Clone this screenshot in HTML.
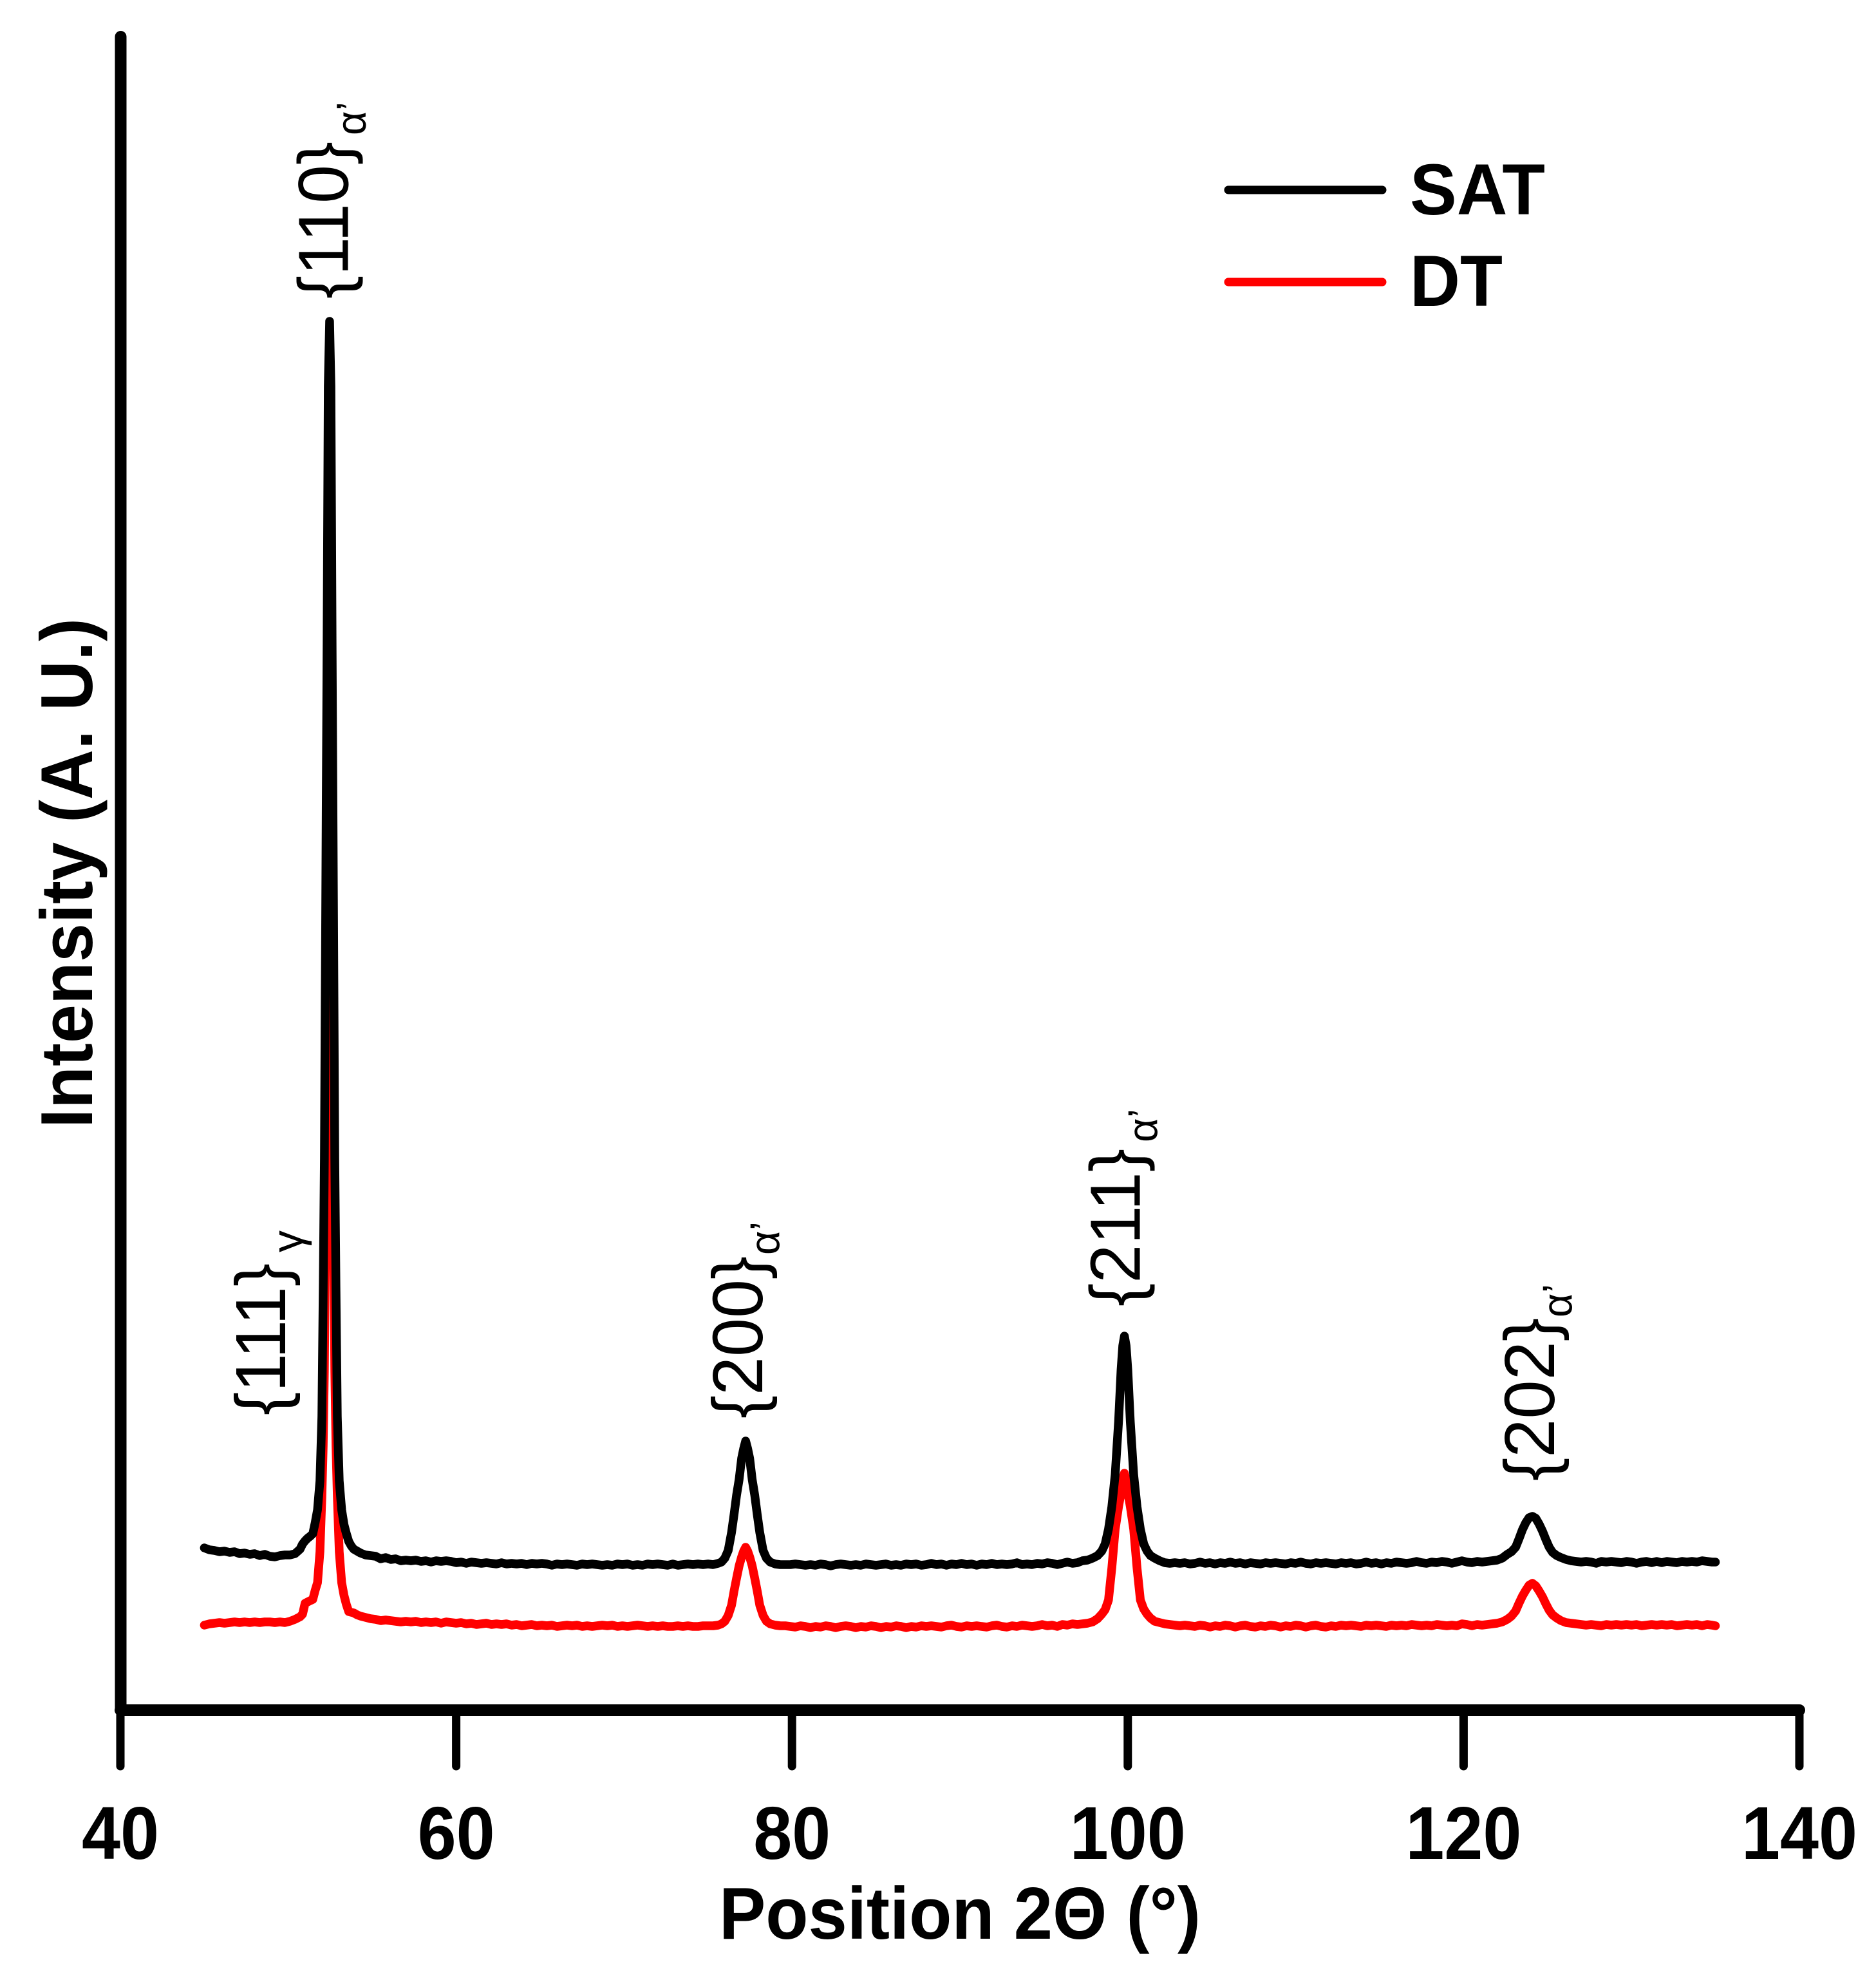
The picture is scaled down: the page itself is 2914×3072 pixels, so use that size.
<!DOCTYPE html>
<html lang="en">
<head>
<meta charset="utf-8">
<title>XRD patterns of SAT and DT samples</title>
<style>
html,body{margin:0;padding:0;background:#fff;}
svg{display:block;}
text{font-family:"Liberation Sans",Arial,sans-serif;fill:#000;}
.bold{font-weight:700;}
</style>
</head>
<body>
<svg id="chart" xmlns="http://www.w3.org/2000/svg" width="2914" height="3072" viewBox="0 0 2914 3072">
  <rect x="0" y="0" width="2914" height="3072" fill="#fff"/>
  <g id="series-layer"></g>
  <g id="axis-layer"></g>

  <text class="bold" font-size="114" transform="translate(143,1752) rotate(-90)" textLength="792" lengthAdjust="spacingAndGlyphs">Intensity (A. U.)</text>
  <text class="bold" font-size="114" x="1117" y="3011" textLength="748" lengthAdjust="spacingAndGlyphs">Position 2Θ (°)</text>

  <g>
    <text font-size="110" transform="translate(443,2198) rotate(-90)" textLength="236" lengthAdjust="spacingAndGlyphs">{111}</text>
    <text font-size="68" transform="translate(470,1945) rotate(-90)">γ</text>
  </g>
  <g>
    <text font-size="110" transform="translate(540.7,464) rotate(-90)" textLength="244" lengthAdjust="spacingAndGlyphs">{110}</text>
    <text font-size="65" transform="translate(568,210) rotate(-90)">α’</text>
  </g>
  <g>
    <text font-size="110" transform="translate(1184,2203) rotate(-90)" textLength="252" lengthAdjust="spacingAndGlyphs">{200}</text>
    <text font-size="65" transform="translate(1210.7,1949) rotate(-90)">α’</text>
  </g>
  <g>
    <text font-size="110" transform="translate(1770.7,2029) rotate(-90)" textLength="245" lengthAdjust="spacingAndGlyphs">{211}</text>
    <text font-size="65" transform="translate(1797.7,1774) rotate(-90)">α’</text>
  </g>
  <g>
    <text font-size="110" transform="translate(2414,2300) rotate(-90)" textLength="253" lengthAdjust="spacingAndGlyphs">{202}</text>
    <text font-size="65" transform="translate(2441.7,2046) rotate(-90)">α’</text>
  </g>

  <g>
    <g>
      <line x1="1908" y1="295" x2="2147" y2="295" stroke="#000" stroke-width="13" stroke-linecap="round"/>
      <text class="bold" font-size="112" x="2190" y="333" textLength="210" lengthAdjust="spacingAndGlyphs">SAT</text>
    </g>
    <g>
      <line x1="1908" y1="438" x2="2147" y2="438" stroke="#f00" stroke-width="13" stroke-linecap="round"/>
      <text class="bold" font-size="112" x="2190" y="475" textLength="144" lengthAdjust="spacingAndGlyphs">DT</text>
    </g>
  </g>
</svg>

<script>
const xTicks = [40, 60, 80, 100, 120, 140];
const xTickLabels = ['40', '60', '80', '100', '120', '140'];

const twoTheta = [
45,45.3,45.6,45.9,46.2,46.5,46.8,47.1,47.4,47.7,48,48.3,48.6,48.9,49.2,49.5,49.8,50.1,50.4,
50.7,50.85,51,51.15,51.3,
51.46,51.6,51.74,51.885,52,52.08,52.15,52.23,52.31,52.38,52.42,52.46,52.5,52.54,52.61,52.69,52.77,52.84,52.92,53.035,53.18,53.32,53.46,
53.6,53.75,53.9,54.1,54.3,54.6,54.9,55.2,55.5,55.8,56.1,56.4,56.7,57,
57.3,57.6,57.9,58.2,58.5,58.8,59.1,59.4,59.7,60,
60.3,60.6,60.9,61.2,61.5,61.8,62.1,62.4,62.7,63,
63.3,63.6,63.9,64.2,64.5,64.8,65.1,65.4,65.7,66,
66.3,66.6,66.9,67.2,67.5,67.8,68.1,68.4,68.7,69,
69.3,69.6,69.9,70.2,70.5,70.8,71.1,71.4,71.7,72,
72.3,72.6,72.9,73.2,73.5,73.8,74.1,74.4,74.7,75,
75.3,75.6,75.8,76,76.2,76.4,76.55,76.7,76.85,77,77.12,77.24,77.36,77.48,77.63,77.78,77.93,78.08,78.28,78.48,78.7,79,79.3,79.6,
79.9,80.2,80.5,80.8,81.1,81.4,81.7,82,82.3,82.6,
82.9,83.2,83.5,83.8,84.1,84.4,84.7,85,85.3,85.6,
85.9,86.2,86.5,86.8,87.1,87.4,87.7,88,88.3,88.6,
88.9,89.2,89.5,89.8,90.1,90.4,90.7,91,91.3,91.6,
91.9,92.2,92.5,92.8,93.1,93.4,93.7,94,94.3,94.6,
94.9,95.2,95.5,95.8,96.1,96.4,96.7,97,
97.3,97.6,97.9,98.2,98.45,98.65,98.85,99.05,99.25,99.45,99.6,99.7,99.8,99.9,100,100.15,100.35,100.55,100.75,100.95,101.15,101.35,101.6,101.9,102.2,102.5,
102.8,103.1,103.4,103.7,104,104.3,104.6,104.9,105.2,105.5,
105.8,106.1,106.4,106.7,107,107.3,107.6,107.9,108.2,108.5,
108.8,109.1,109.4,109.7,110,110.3,110.6,110.9,111.2,111.5,
111.8,112.1,112.4,112.7,113,113.3,113.6,113.9,114.2,114.5,
114.8,115.1,115.4,115.7,116,116.3,116.6,116.9,117.2,117.5,
117.8,118.1,118.4,118.7,119,119.3,119.6,119.9,120.2,120.5,
120.8,121.1,
121.4,121.7,122,122.3,122.6,122.85,123.1,123.3,123.5,123.7,123.9,124.1,124.3,124.5,124.7,124.9,125.1,125.3,125.55,125.8,126.1,126.4,126.7,
127,127.3,127.6,127.9,128.2,128.5,128.8,129.1,129.4,129.7,
130,130.3,130.6,130.9,131.2,131.5,131.8,132.1,132.4,132.7,
133,133.3,133.6,133.9,134.2,134.5,134.8,135
];

const satIntensity = [
252,249,248,246,247,245,246,243,244,242,243,240,242,239,238,240,241,241,243,
250,258,263,267,270,
274,291,311,356,456,656,856,1256,1656,2056,2106,2157,2106,2056,1656,1256,856,656,456,356,311,288,274,
262,255,250,247,244,241,240,239,235,237,234,235,232,233,
232,233,231,232,230,232,231,232,231,229,
230,228,230,229,228,229,228,227,229,227,
228,227,228,226,228,227,228,227,225,227,
226,227,226,225,227,226,227,226,225,226,
225,227,226,227,225,226,225,227,226,227,
226,225,227,225,226,227,226,227,226,227,
226,228,230,236,248,276,304,334,358,391,406,418,406,391,358,334,304,276,248,236,230,227,226,226,
226,227,226,225,226,225,227,226,224,226,
227,226,225,226,225,227,226,225,226,227,
225,226,225,227,226,227,225,226,228,226,
227,225,227,226,228,226,227,225,227,226,
228,226,227,226,227,229,226,227,226,228,
227,229,228,226,228,230,228,229,
232,233,236,240,247,258,281,316,366,448,529,566,581,566,529,448,366,316,281,258,247,240,236,232,229,228,
229,228,229,227,228,230,228,229,227,229,
228,230,228,229,227,229,228,227,229,228,
229,228,227,229,228,230,228,227,229,228,
229,228,227,229,228,229,227,228,230,228,
229,227,229,228,230,229,228,229,231,229,
228,230,229,231,230,228,230,232,230,229,
231,230,
231,232,233,236,242,246,253,266,280,291,299,301,298,289,278,265,253,245,240,237,234,232,231,
230,231,230,228,231,230,231,230,229,231,
230,228,230,231,229,231,229,231,230,229,
231,230,231,230,232,231,230,230
];

const dtIntensity = [
132,134,135,136,135,136,137,136,137,136,137,136,137,137,136,137,136,138,141,
145,149,166,168,170,
172,186,198,246,331,411,526,776,1116,1316,1381,1450,1381,1316,1116,776,526,411,331,246,198,178,164,
153,152,151,148,146,144,142,141,139,140,139,138,137,138,
137,138,136,137,136,137,135,137,136,135,
136,134,135,133,134,135,133,134,133,134,
132,133,131,132,133,131,132,131,132,130,
131,132,131,132,130,131,130,131,132,131,
132,130,131,130,131,132,131,130,131,130,
131,130,130,131,130,131,130,130,131,131,
131,132,134,138,147,163,185,205,224,238,247,253,247,238,224,205,185,163,147,138,134,132,131,131,
130,129,131,130,128,130,129,131,130,128,
130,131,130,128,130,129,131,130,128,130,
129,131,130,128,130,129,131,130,131,130,
129,131,132,130,129,131,130,131,130,129,
131,132,130,129,131,130,132,131,130,131,
133,131,132,130,133,132,134,133,
134,135,137,142,149,156,171,221,281,316,338,358,368,358,338,316,281,221,171,157,149,143,138,136,134,133,
132,131,132,131,130,132,131,129,131,130,
132,131,129,131,132,130,129,131,130,132,
131,129,131,130,132,131,129,131,132,130,
129,131,130,132,131,132,131,130,132,131,
132,131,130,132,131,132,131,133,132,131,
132,131,133,132,131,132,131,134,133,131,
133,132,
133,134,135,137,141,146,154,166,177,186,194,197,193,185,176,165,155,148,143,139,136,135,134,
133,132,133,132,131,133,132,133,132,133,
132,133,131,132,133,132,133,132,133,131,
132,133,132,133,131,133,132,131
];

const xDomain = [40, 140];
const yDomain = [0, 2607];

function xScale(v) {
  return 187 + (v - xDomain[0]) / (xDomain[1] - xDomain[0]) * 2608;
}
function yScale(v) {
  return 2656 - (v - yDomain[0]) / (yDomain[1] - yDomain[0]) * 2607;
}

const NS = 'http://www.w3.org/2000/svg';
const seriesLayer = document.getElementById('series-layer');
const axisLayer = document.getElementById('axis-layer');

function buildPath(values) {
  let d = '';
  for (let i = 0; i < twoTheta.length; i++) {
    d += (i === 0 ? 'M' : 'L') + xScale(twoTheta[i]).toFixed(2) + ' ' + yScale(values[i]).toFixed(2);
  }
  return d;
}

const dtLine = document.createElementNS(NS, 'path');


dtLine.setAttribute('d', buildPath(dtIntensity));
dtLine.setAttribute('fill', 'none');
dtLine.setAttribute('stroke', '#f00');
dtLine.setAttribute('stroke-width', '13.5');
dtLine.setAttribute('stroke-linejoin', 'round');
dtLine.setAttribute('stroke-linecap', 'round');
seriesLayer.appendChild(dtLine);

const satLine = document.createElementNS(NS, 'path');


satLine.setAttribute('d', buildPath(satIntensity));
satLine.setAttribute('fill', 'none');
satLine.setAttribute('stroke', '#000');
satLine.setAttribute('stroke-width', '13.5');
satLine.setAttribute('stroke-linejoin', 'round');
satLine.setAttribute('stroke-linecap', 'round');
seriesLayer.appendChild(satLine);

const yAxisLine = document.createElementNS(NS, 'line');


yAxisLine.setAttribute('x1', xScale(xDomain[0]) + 0.5);
yAxisLine.setAttribute('x2', xScale(xDomain[0]) + 0.5);
yAxisLine.setAttribute('y1', yScale(yDomain[1]) + 8);
yAxisLine.setAttribute('y2', yScale(yDomain[0]));
yAxisLine.setAttribute('stroke', '#000');
yAxisLine.setAttribute('stroke-width', '18');
yAxisLine.setAttribute('stroke-linecap', 'round');
axisLayer.appendChild(yAxisLine);

const xAxisLine = document.createElementNS(NS, 'line');


xAxisLine.setAttribute('x1', xScale(xDomain[0]));
xAxisLine.setAttribute('x2', xScale(xDomain[1]));
xAxisLine.setAttribute('y1', yScale(yDomain[0]));
xAxisLine.setAttribute('y2', yScale(yDomain[0]));
xAxisLine.setAttribute('stroke', '#000');
xAxisLine.setAttribute('stroke-width', '18');
xAxisLine.setAttribute('stroke-linecap', 'round');
axisLayer.appendChild(xAxisLine);

xTicks.forEach(function (tick, i) {
  const mark = document.createElementNS(NS, 'line');
  
  
  mark.setAttribute('x1', xScale(tick));
  mark.setAttribute('x2', xScale(tick));
  mark.setAttribute('y1', yScale(yDomain[0]));
  mark.setAttribute('y2', yScale(yDomain[0]) + 87);
  mark.setAttribute('stroke', '#000');
  mark.setAttribute('stroke-width', '13');
  mark.setAttribute('stroke-linecap', 'round');
  axisLayer.appendChild(mark);

  const label = document.createElementNS(NS, 'text');
  
  
  label.setAttribute('class', 'bold');
  label.setAttribute('font-size', '116');
  label.setAttribute('x', xScale(tick));
  label.setAttribute('y', 2887);
  label.setAttribute('text-anchor', 'middle');
  label.setAttribute('textLength', xTickLabels[i].length * 60);
  label.setAttribute('lengthAdjust', 'spacingAndGlyphs');
  label.textContent = xTickLabels[i];
  axisLayer.appendChild(label);
});
</script>
</body>
</html>
